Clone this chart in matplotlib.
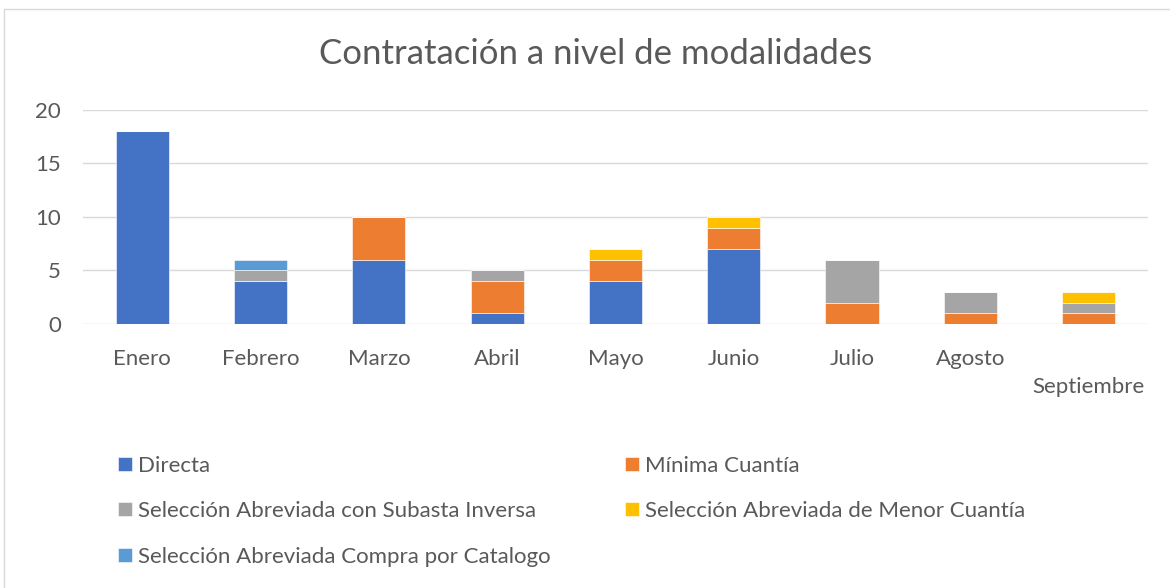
import numpy as np
import matplotlib.pyplot as plt
from matplotlib.patches import Rectangle

meses = ['Enero', 'Febrero', 'Marzo', 'Abril', 'Mayo', 'Junio', 'Julio', 'Agosto', 'Septiembre']
directa = [18, 4, 6, 1, 4, 7, 0, 0, 0]
minima = [0, 0, 4, 3, 2, 2, 2, 1, 1]
subasta = [0, 1, 0, 1, 0, 0, 4, 2, 1]
menor = [0, 0, 0, 0, 1, 1, 0, 0, 1]
catalogo = [0, 1, 0, 0, 0, 0, 0, 0, 0]

series = [
    ('Directa', directa, '#4472C4'),
    ('Mínima Cuantía', minima, '#ED7D31'),
    ('Selección Abreviada con Subasta Inversa', subasta, '#A5A5A5'),
    ('Selección Abreviada de Menor Cuantía', menor, '#FFC000'),
    ('Selección Abreviada Compra por Catalogo', catalogo, '#5B9BD5'),
]

plt.rcParams['font.family'] = ['Lato', 'DejaVu Sans']
gris = '#595959'

fig = plt.figure(figsize=(11.7, 5.88), dpi=100)
ax = fig.add_axes([0.071, 0.449, 0.91, 0.364])

x = np.arange(len(meses))
base = np.zeros(len(meses))
handles = []
for nombre, vals, color in series:
    vals = np.array(vals, dtype=float)
    b = ax.bar(x, vals, 0.45, bottom=base, color=color, label=nombre,
               edgecolor='white', linewidth=0.4, zorder=3)
    handles.append(b)
    base += vals

ax.set_xlim(-0.5, len(meses) - 0.5)
ax.set_ylim(0, 20)
ax.set_yticks([0, 5, 10, 15, 20])
ax.grid(axis='y', color='#D9D9D9', linewidth=1, zorder=0)
for s in ax.spines.values():
    s.set_visible(False)
ax.tick_params(length=0, labelsize=16, colors=gris, pad=18)
ax.tick_params(axis='y', pad=16)
etiquetas = meses[:-1] + ['\n' + meses[-1]]
ax.set_xticks(x)
ax.set_xticklabels(etiquetas, linespacing=1.5)

fig.text(0.509, 0.909, 'Contratación a nivel de modalidades', ha='center', va='center',
         fontsize=25, color=gris)

# orden por filas en la leyenda
orden = [0, 2, 4, 1, 3]
leg = fig.legend([handles[i] for i in orden], [series[i][0] for i in orden],
                 ncol=2, loc='upper left', bbox_to_anchor=(0.084, 0.259),
                 frameon=False, fontsize=16, labelcolor=gris,
                 handlelength=0.6, handleheight=0.6, handletextpad=0.3,
                 columnspacing=3.35, labelspacing=1.15)

fig.patches.append(Rectangle((0.003, -0.01), 1.2, 0.995, transform=fig.transFigure,
                             fill=False, edgecolor='#D9D9D9', linewidth=1))

fig.savefig('out.png', dpi=100)
